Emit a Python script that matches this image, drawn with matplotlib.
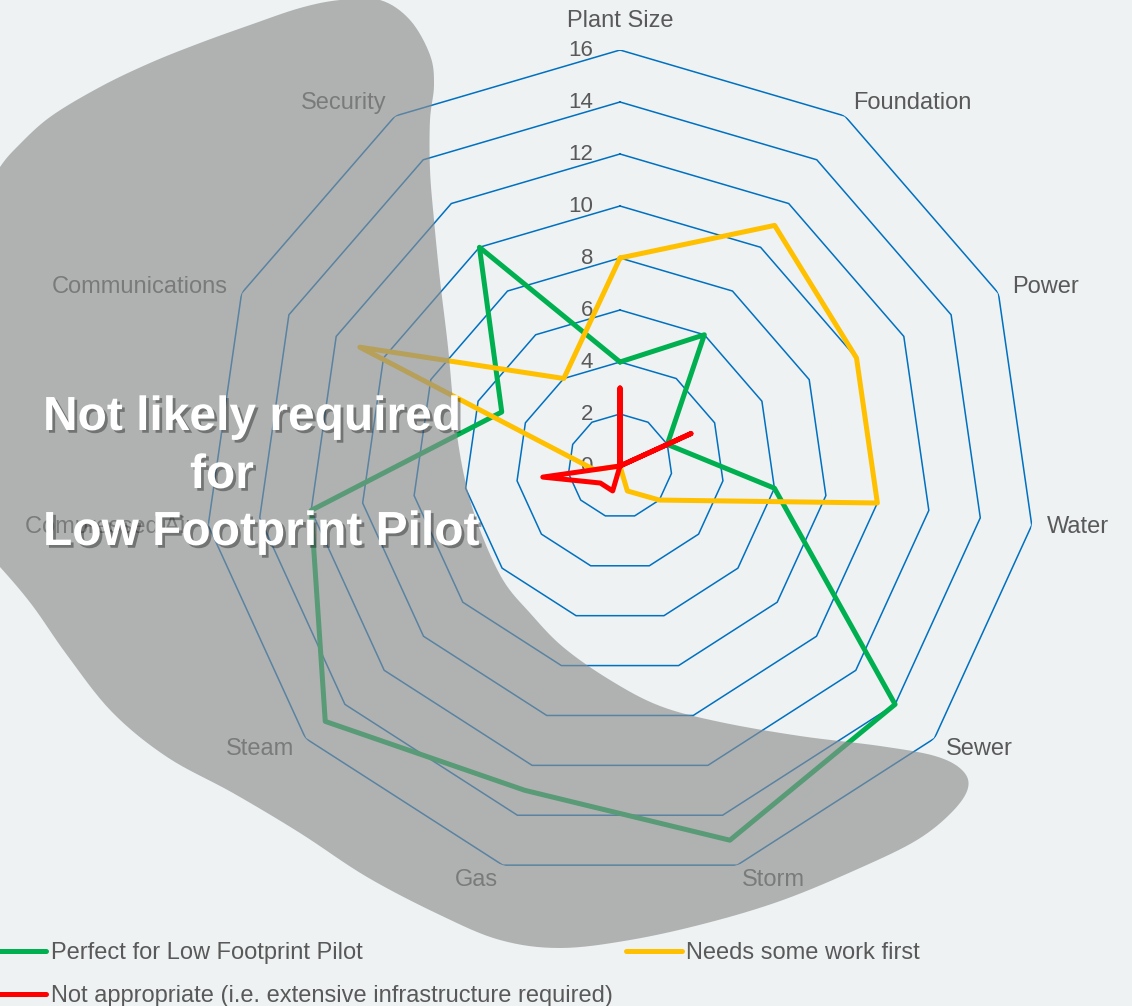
import numpy as np
import matplotlib.pyplot as plt
from matplotlib.patches import Polygon
import matplotlib.patheffects as pe

plt.rcParams['font.family'] = ['Liberation Sans', 'DejaVu Sans']

# data
categories = ['Plant Size', 'Foundation', 'Power', 'Water', 'Sewer', 'Storm',
              'Gas', 'Steam', 'Compressed Air', 'Communications', 'Security']
perfect = [4, 6, 2, 6, 14, 15, 13, 15, 12, 5, 10]
needs_work = [8, 11, 10, 10, 2, 1, 0, 0, 1, 11, 4]
not_appropriate = [3, 0, 3, 0, 0, 0, 1, 1, 3, 0, 0]
ring_levels = [0, 2, 4, 6, 8, 10, 12, 14, 16]

series_names = ['Perfect for Low Footprint Pilot',
                'Needs some work first',
                'Not appropriate (i.e. extensive infrastructure required)']
series_colors = ['#00B050', '#FFC000', '#FF0000']

W, H = 1132, 1006
BG = '#eef2f3'
TXT = '#595959'


def fx(x):
    return x / W


def fy(y):
    return 1 - y / H


def smooth_closed(pts, steps=8):
    # closed catmull-rom curve through the outline points (shape only, not data)
    p = np.asarray(pts, dtype=float)
    k = len(p)
    out = []
    for i in range(k):
        p0, p1, p2, p3 = p[i - 1], p[i], p[(i + 1) % k], p[(i + 2) % k]
        for t in np.linspace(0, 1, steps, endpoint=False):
            t2, t3 = t * t, t * t * t
            out.append(0.5 * ((2 * p1) + (-p0 + p2) * t +
                              (2 * p0 - 5 * p1 + 4 * p2 - p3) * t2 +
                              (-p0 + 3 * p1 - 3 * p2 + p3) * t3))
    return np.array(out)


fig = plt.figure(figsize=(W / 100, H / 100), dpi=100, facecolor=BG)

# polar axes centred at (620, 466) px, r=16 -> 416 px
cx, cy, R = 620, 466, 416
ax = fig.add_axes([fx(cx - R), fy(cy + R), 2 * R / W, 2 * R / H], projection='polar')
ax.set_facecolor('none')
ax.set_theta_zero_location('N')
ax.set_theta_direction(-1)
ax.set_ylim(0, 16)
ax.grid(False)
ax.spines['polar'].set_visible(False)
ax.set_xticks([])
ax.set_yticks([])

n = len(categories)
theta = np.linspace(0, 2 * np.pi, n, endpoint=False)
closed = np.append(theta, theta[0])

# polygon grid rings
for lv in ring_levels[1:]:
    ax.plot(closed, [lv] * (n + 1), color='#0070C0', lw=1.1, zorder=1)

# ring labels
for lv in ring_levels:
    ax.annotate(str(lv), xy=(0, lv), xytext=(-19.5, 0), textcoords='offset points',
                ha='right', va='center', fontsize=16, color=TXT)

# category labels
for ang, name in zip(theta, categories):
    if np.isclose(ang, 0):
        ax.text(ang, 17.1, name, ha='center', va='center', fontsize=17, color=TXT)
    else:
        ha = 'left' if ang < np.pi else 'right'
        ax.text(ang, 16.6, name, ha=ha, va='center', fontsize=17, color=TXT)

# series
handles = []
for vals, col, name in zip([perfect, needs_work, not_appropriate], series_colors, series_names):
    v = np.append(vals, vals[0])
    h, = ax.plot(closed, v, color=col, lw=3.6, solid_joinstyle='round',
                 solid_capstyle='round', zorder=3, label=name)
    handles.append(h)

# grey overlay blob (pixel outline)
blob_px = [(-45, 260), (-20, 200), (0, 167), (17, 147), (50, 117), (100, 87),
           (150, 63), (200, 43), (250, 25), (300, 8), (340, 0), (380, 0),
           (410, 20), (430, 55), (434, 85), (430, 120), (430, 170), (434, 220),
           (440, 280), (448, 347), (455, 420), (465, 480), (480, 530), (503, 580),
           (530, 613), (563, 647), (610, 680), (660, 706), (720, 722),
           (800, 736), (880, 746), (935, 756), (962, 770), (968, 788),
           (952, 812), (917, 840), (860, 868), (783, 900), (707, 923),
           (630, 940), (560, 948), (500, 940), (440, 915), (367, 877),
           (300, 833), (233, 793), (167, 757), (112, 712), (67, 655),
           (32, 605), (0, 567), (-35, 530), (-60, 480)]
blob_xy = smooth_closed(blob_px)
blob = Polygon([(fx(x), fy(y)) for x, y in blob_xy], closed=True,
               transform=fig.transFigure, facecolor='#8d8e8e', alpha=0.64,
               edgecolor='none', zorder=5)
fig.add_artist(blob)

# overlay text
shadow = [pe.SimplePatchShadow(offset=(2, -2), shadow_rgbFace='black', alpha=0.35), pe.Normal()]
for txt, x, y in [('Not likely required', 43, 430), ('for', 190, 488), ('Low Footprint Pilot', 43, 545)]:
    fig.text(fx(x), fy(y), txt, ha='left', va='baseline', fontsize=34.5, fontweight='bold',
             color='white', zorder=6, path_effects=shadow)

# legend
leg = fig.legend([handles[0], handles[2], handles[1]],
                 [series_names[0], series_names[2], series_names[1]],
                 ncol=2, loc='upper left', bbox_to_anchor=(fx(-9), fy(942)),
                 frameon=False, fontsize=17, handlelength=2.35, handletextpad=0.2,
                 columnspacing=0.55, labelspacing=0.9, borderpad=0, borderaxespad=0)
for t in leg.get_texts():
    t.set_color(TXT)
leg.set_zorder(7)

fig.savefig('out.png', dpi=100, facecolor=BG)
